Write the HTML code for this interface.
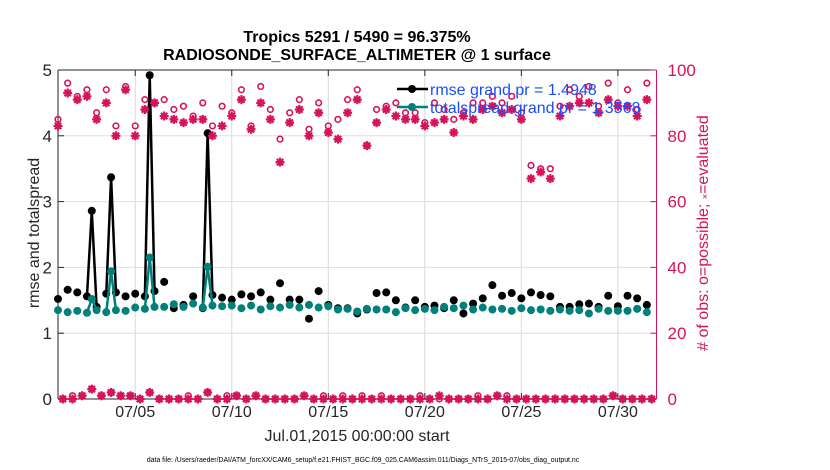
<!DOCTYPE html>
<html><head><meta charset="utf-8"><style>
html,body{margin:0;padding:0;background:#fff;}
svg{display:block;font-family:"Liberation Sans",Arial,sans-serif;}
</style></head><body>
<svg id="chart" width="830" height="470" viewBox="0 0 830 470" xmlns="http://www.w3.org/2000/svg">
<text x="357" y="42" text-anchor="middle" font-size="16" font-weight="bold" fill="#000">Tropics 5291 / 5490 = 96.375%</text>
<text x="357" y="60" text-anchor="middle" font-size="16" font-weight="bold" fill="#000">RADIOSONDE_SURFACE_ALTIMETER @ 1 surface</text>
<g id="grid"></g>
<g id="axes"></g>
<g id="series"></g>
<text transform="translate(39,233) rotate(-90)" text-anchor="middle" font-size="16" fill="#262626">rmse and totalspread</text>
<text transform="translate(708,233) rotate(-90)" text-anchor="middle" font-size="16" fill="#d6135a"># of obs: o=possible; <tspan font-size="9">×</tspan>=evaluated</text>
<text x="357" y="441" text-anchor="middle" font-size="16" fill="#262626">Jul.01,2015 00:00:00 start</text>
<text x="363" y="462" text-anchor="middle" font-size="6.9" fill="#000">data file: /Users/raeder/DAI/ATM_forcXX/CAM6_setup/f.e21.FHIST_BGC.f09_025.CAM6assim.011/Diags_NTrS_2015-07/obs_diag_output.nc</text>
<g id="legend"></g>
</svg>
<script>
// ---- data ----
const mainTimes = []; // t = 0,0.5,...,30.5 days
const rmseMain = [1.52,1.66,1.62,1.56,1.40,1.60,1.62,1.56,1.60,1.56,1.64,1.78,1.38,1.43,1.56,1.38,1.58,1.54,1.51,1.59,1.56,1.62,1.51,1.76,1.51,1.51,1.22,1.64,1.43,1.38,1.38,1.30,1.36,
1.61,1.62,1.50,1.39,1.50,1.40,1.42,1.38,1.50,1.30,1.45,1.53,1.73,1.57,1.61,1.53,1.62,1.58,1.56,1.40,1.40,1.44,1.45,1.40,1.57,1.41,1.57,1.53,1.43];
const spreadMain = [1.35,1.32,1.34,1.31,1.35,1.32,1.35,1.34,1.39,1.37,1.40,1.40,1.44,1.40,1.45,1.39,1.42,1.41,1.42,1.38,1.42,1.36,1.41,1.39,1.43,1.39,1.43,1.39,1.41,1.36,1.37,1.33,1.37,
1.36,1.36,1.32,1.38,1.35,1.37,1.35,1.40,1.38,1.42,1.36,1.39,1.36,1.37,1.34,1.38,1.35,1.36,1.34,1.36,1.34,1.35,1.30,1.37,1.34,1.34,1.34,1.37,1.32];
const possibleMain = [85,96,92,94,87,94,83,95,83,91,90,91,88,89,86,90,83,89,87,94,83,95,88,79,87,91,82,90,83,85,91,94,77,
88,89,90,87,87,84,90,88,85,87,90,90,92,90,92,87,71,70,70,89,94,92,95,89,96,90,94,88,96];
const evaluatedMain = [83,93,91,92,85,90,80,94,80,88,90,86,85,84,85,85,80,83,86,91,82,90,85,72,84,88,80,87,81,79,87,91,77,
84,88,86,85,85,83,84,85,81,86,85,88,89,87,88,85,67,69,67,86,89,90,90,87,91,89,89,86,91];
// off-synoptic times t = 0.25,0.75,...,30.75
const offTimes = [];
const possibleOff = [0,1,1,3,1,2,1,1,0,2,0,0,0,1,0,2,0,1,1,0,1,0,0,0,0,1,0,1,0,1,0,1,0,1,0,0,0,1,0,0,0,0,0,1,0,1,1,0,0,0,0,0,0,0,0,0,0,1,0,0,0,0];
const evaluatedOff = [0,0,1,3,1,2,1,1,0,2,0,0,0,0,0,2,0,0,1,0,1,0,0,0,0,1,0,0,0,0,0,0,0,0,0,0,0,0,0,1,0,0,0,0,0,1,0,0,0,0,0,0,0,0,0,0,0,1,0,0,0,0];
const spikeTimes = [1.75,2.75,4.75,7.75];
const rmseSpike = [2.86,3.37,4.92,4.04];
const spreadSpike = [1.52,1.94,2.15,2.01];
const xTickDays = [4,9,14,19,24,29];
const xTickLabels = ["07/05","07/10","07/15","07/20","07/25","07/30"];
const leftTicks = [0,1,2,3,4,5];
const rightTicks = [0,20,40,60,80,100];
for (let i=0;i<62;i++){ mainTimes.push(i*0.5); offTimes.push(0.25+i*0.5); }

// ---- scales ----
const X0=58, X1=656.5, Y0=399, Y1=70, TMAX=31.0;
const PINK="#d6135a", TEAL="#00807a";
const xs = t => X0 + t/TMAX*(X1-X0);
const yl = v => Y0 - v/5*(Y0-Y1);
const yr = v => Y0 - v/100*(Y0-Y1);
const NS="http://www.w3.org/2000/svg";
function mk(parent, tag, attrs){ const e=document.createElementNS(NS,tag); for(const k in attrs) e.setAttribute(k,attrs[k]); parent.appendChild(e); return e; }

const grid=document.getElementById('grid'), axes=document.getElementById('axes'), ser=document.getElementById('series'), leg=document.getElementById('legend');

// grid
xTickDays.forEach((d,i)=>{
  const l=mk(grid,'line',{x1:xs(d),x2:xs(d),y1:Y1,y2:Y0,stroke:'#d9d9d9','stroke-width':1});
  
  
});
rightTicks.slice(1,5).forEach(v=>{
  const l=mk(grid,'line',{x1:X0,x2:X1,y1:yr(v),y2:yr(v),stroke:'#f0d6e0','stroke-width':1});
  
  
});

// axes
mk(axes,'line',{x1:X0,x2:X0,y1:Y1,y2:Y0,stroke:'#262626','stroke-width':1});
mk(axes,'line',{x1:X0,x2:X1,y1:Y0,y2:Y0,stroke:'#262626','stroke-width':1});
mk(axes,'line',{x1:X0,x2:X1,y1:Y1,y2:Y1,stroke:'#262626','stroke-width':1});
mk(axes,'line',{x1:X1,x2:X1,y1:Y1,y2:Y0,stroke:PINK,'stroke-width':1});
leftTicks.forEach(v=>{
  mk(axes,'line',{x1:X0,x2:X0+6,y1:yl(v),y2:yl(v),stroke:'#262626'});
  const t=mk(axes,'text',{x:X0-6,y:yl(v)+6,'text-anchor':'end','font-size':17,fill:'#262626'});
  t.textContent=v;
  
  
});
rightTicks.forEach(v=>{
  mk(axes,'line',{x1:X1-6,x2:X1,y1:yr(v),y2:yr(v),stroke:PINK});
  const t=mk(axes,'text',{x:X1+11,y:yr(v)+6,'font-size':17,fill:PINK});
  t.textContent=v;
  
  
});
xTickDays.forEach((d,i)=>{
  mk(axes,'line',{x1:xs(d),x2:xs(d),y1:Y0,y2:Y0-6,stroke:'#262626'});
  mk(axes,'line',{x1:xs(d),x2:xs(d),y1:Y1,y2:Y1+6,stroke:'#262626'});
  const t=mk(axes,'text',{x:xs(d),y:Y0+18,'text-anchor':'middle','font-size':16,fill:'#262626'});
  t.textContent=xTickLabels[i];
  
  
});

// merged series (NaN breaks lines)
function merged(mainVals, spikeVals){
  const pts=[];
  mainTimes.forEach((t,i)=>pts.push([t,mainVals[i]]));
  offTimes.forEach(t=>{ const k=spikeTimes.indexOf(t); pts.push([t, k>=0?spikeVals[k]:null]); });
  pts.sort((a,b)=>a[0]-b[0]);
  return pts;
}
function drawLineSeries(pts,color,name){
  const g=mk(ser,'g',{});
  
  
  for(let i=0;i<pts.length-1;i++){
    if(pts[i][1]!==null && pts[i+1][1]!==null){
      mk(g,'line',{x1:xs(pts[i][0]),y1:yl(pts[i][1]),x2:xs(pts[i+1][0]),y2:yl(pts[i+1][1]),stroke:color,'stroke-width':2.5});
    }
  }
  pts.forEach(p=>{ if(p[1]!==null){
    const c=mk(g,'circle',{cx:xs(p[0]),cy:yl(p[1]),r:4,fill:color});
    
    
  }});
}
drawLineSeries(merged(rmseMain,rmseSpike),'#000','rmse');
drawLineSeries(merged(spreadMain,spreadSpike),TEAL,'totalspread');

// obs counts
function star(g,x,y){
  const s=4.5, d=3.2;
  mk(g,'path',{d:`M${x-s},${y}H${x+s}M${x},${y-s}V${y+s}M${x-d},${y-d}L${x+d},${y+d}M${x-d},${y+d}L${x+d},${y-d}`,stroke:PINK,'stroke-width':2.2,fill:'none'});
}
const obsG=mk(ser,'g',{});


function drawCounts(times,poss,evals){
  times.forEach((t,i)=>{
    star(obsG,xs(t),yr(evals[i]));
    const c=mk(obsG,'circle',{cx:xs(t),cy:yr(poss[i]),r:2.8,fill:'none',stroke:PINK,'stroke-width':1.6});
    
    
  });
}
drawCounts(mainTimes,possibleMain,evaluatedMain);
drawCounts(offTimes,possibleOff,evaluatedOff);

// legend
const legItems=[["rmse grand pr = 1.4948","#000",89],["totalspread grand pr = 1.3568",TEAL,107]];
legItems.forEach(it=>{
  const g=mk(leg,'g',{});
  
  
  mk(g,'line',{x1:397,x2:428,y1:it[2],y2:it[2],stroke:it[1],'stroke-width':2.5});
  mk(g,'circle',{cx:412,cy:it[2],r:4,fill:it[1]});
  const t=mk(g,'text',{x:430,y:it[2]+6,'font-size':16,fill:'#1a4dff'});
  t.textContent=it[0];
});
</script>
</body></html>
